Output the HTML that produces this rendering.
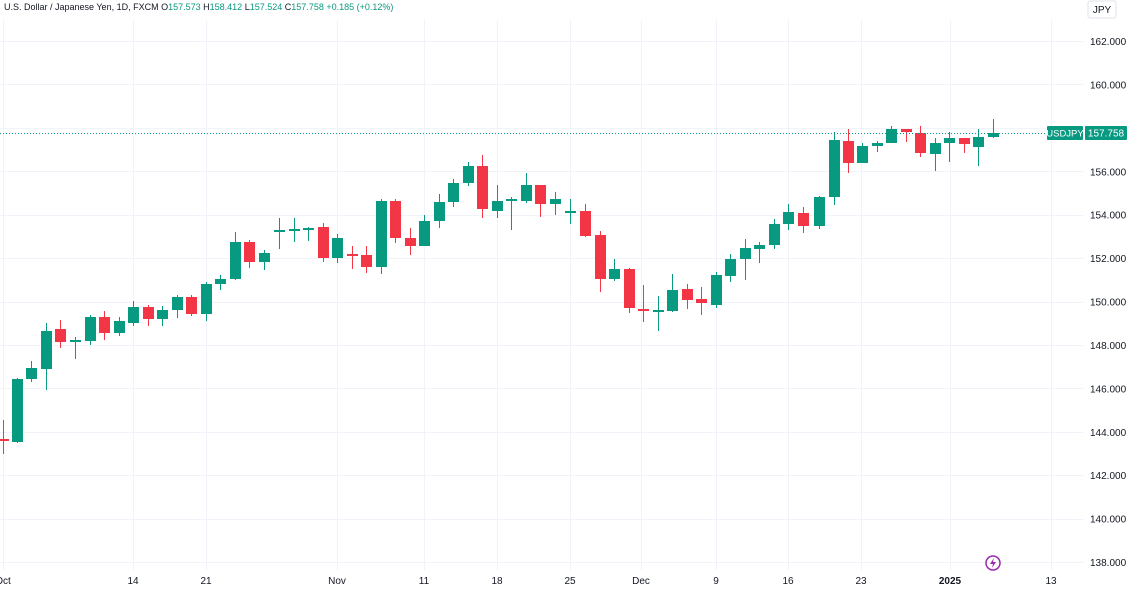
<!DOCTYPE html>
<html><head><meta charset="utf-8"><style>
html,body{margin:0;padding:0;background:#fff;width:1129px;height:591px;overflow:hidden;font-family:"Liberation Sans",sans-serif}
</style></head><body>
<svg id="s" width="1129" height="591" xmlns="http://www.w3.org/2000/svg" font-family="Liberation Sans, sans-serif">
<g id="grid" stroke="#f0f3fa" stroke-width="1"></g>
<g id="c"></g>
<line x1="0" y1="133.5" x2="1083" y2="133.5" stroke="#089981" stroke-width="1" stroke-dasharray="1,2"/>
<g id="ax" font-size="10" fill="#131722"></g>
<rect x="1088" y="1" width="28" height="17" rx="2" fill="#fff" stroke="#e0e3eb"/>
<text x="1102" y="13" font-size="10" text-anchor="middle" fill="#131722">JPY</text>
<rect x="1047" y="126" width="36" height="14" rx="1" fill="#089981"/>
<text x="1065" y="136.5" font-size="9.5" text-anchor="middle" fill="#fff">USDJPY</text>
<rect x="1085" y="126" width="42" height="14" rx="1" fill="#089981"/>
<text x="1106" y="136.5" font-size="10" text-anchor="middle" fill="#fff">157.758</text>
<text x="4" y="10" font-size="9" fill="#131722">U.S. Dollar / Japanese Yen, 1D, FXCM  <tspan fill="#131722">O</tspan><tspan fill="#089981">157.573</tspan>  <tspan fill="#131722">H</tspan><tspan fill="#089981">158.412</tspan>  <tspan fill="#131722">L</tspan><tspan fill="#089981">157.524</tspan>  <tspan fill="#131722">C</tspan><tspan fill="#089981">157.758</tspan>  <tspan fill="#089981">+0.185 (+0.12%)</tspan></text>
<circle cx="993" cy="563" r="7" fill="none" stroke="#9c27b0" stroke-width="1.5"/>
<path d="M994 558 L990 564 L993 564 L992 568 L996 562 L993 562 Z" fill="#9c27b0"/>
</svg>
<script>
var NS="http://www.w3.org/2000/svg";
function el(p,t,a,txt){var e=document.createElementNS(NS,t);for(var k in a)e.setAttribute(k,a[k]);if(txt)e.textContent=txt;document.getElementById(p).appendChild(e);}
var vx=[3,133,206,337,424,497,570,641,716,788,861,950,1051],vl=["Oct","14","21","Nov","11","18","25","Dec","9","16","23","2025","13"];
for(var i=0;i<vx.length;i++){el("grid","line",{x1:vx[i]+.5,y1:20,x2:vx[i]+.5,y2:570});el("ax","text",{x:vx[i],y:584,"text-anchor":"middle","font-weight":vl[i]=="2025"?"bold":"normal"},vl[i]);}
for(var p=162,j=0;p>=138;p-=2,j++){var y=41+j*43.42;el("grid","line",{x1:0,y1:Math.round(y)+.5,x2:1083,y2:Math.round(y)+.5});if(p!=158)el("ax","text",{x:1090,y:y+4},p.toFixed(3));}
var d=[[3,0,439,441,420,454],[17,1,379,442,378,443],[31,1,368,379,361,382],[46,1,331,369,323,390],[60,0,329,342,320,348],[75,1,340,342,337,359],[90,1,317,341,315,345],[104,0,317,333,311,340],[119,1,321,333,317,336],[133,1,307,323,301,326],[148,0,307,319,305,326],[162,1,310,319,306,326],[177,1,297,310,295,318],[191,0,297,314,295,316],[206,1,284,314,282,321],[220,1,279,284,275,290],[235,1,242,279,232,280],[249,0,242,262,240,268],[264,1,253,262,250,270],[279,1,230,232,218,249],[294,1,229,231,218,242],[308,1,228,230,227,241],[323,0,227,258,223,262],[337,1,238,258,234,263],[352,0,254,256,246,269],[366,0,255,267,246,273],[381,1,201,267,199,274],[395,0,201,238,199,243],[410,0,238,246,228,255],[424,1,221,246,215,246],[439,1,202,221,194,228],[453,1,183,202,179,207],[468,1,166,183,162,186],[482,0,166,209,155,218],[497,1,201,211,185,218],[511,1,199,201,197,230],[526,1,185,201,173,203],[540,0,185,204,185,217],[555,1,199,204,192,215],[570,1,211,213,199,224],[585,0,211,236,204,237],[600,0,235,279,231,292],[614,1,269,279,259,281],[629,0,269,308,268,313],[643,0,309,311,285,322],[658,1,310,312,296,331],[672,1,290,311,274,312],[687,0,289,300,284,309],[701,0,299,303,287,315],[716,1,275,305,272,308],[730,1,259,276,254,282],[745,1,248,259,239,280],[759,1,245,249,242,263],[774,1,224,245,219,249],[788,1,212,224,204,230],[803,0,213,226,207,233],[819,1,197,226,196,229],[834,1,140,197,132,205],[848,0,141,163,129,173],[862,1,146,163,143,163],[877,1,143,146,141,152],[891,1,129,143,126,143],[906,0,129,132,129,142],[920,0,133,153,126,157],[935,1,143,154,138,171],[949,1,138,143,132,162],[964,0,138,144,138,153],[978,1,137,147,129,166],[993,1,133,137,119,138]];
d.forEach(function(b){var c=b[1]?"#089981":"#f23645";el("c","line",{x1:b[0]+.5,y1:b[4],x2:b[0]+.5,y2:b[5],stroke:c,"stroke-width":1});var h=Math.max(2,b[3]-b[2]);el("c","rect",{x:b[0]-5,y:b[2],width:11,height:h,fill:c});});
</script>
</body></html>
